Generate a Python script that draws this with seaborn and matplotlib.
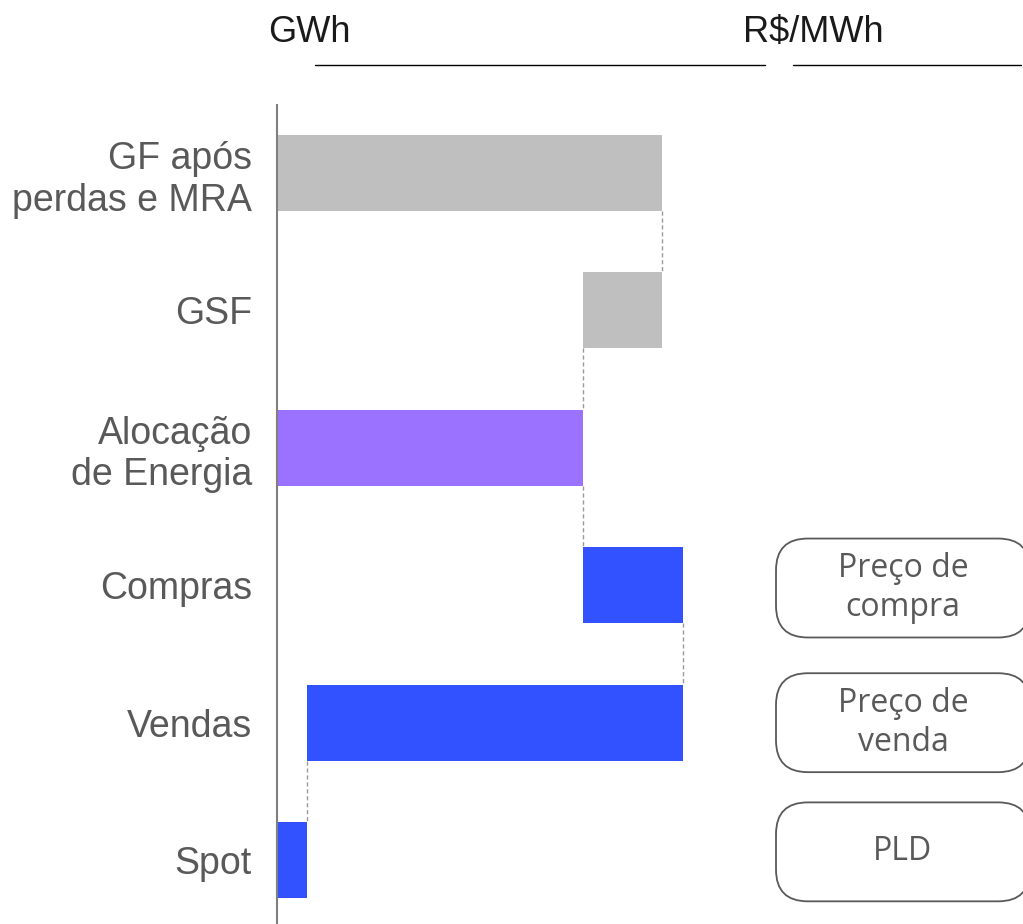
import matplotlib
matplotlib.use("Agg")
import matplotlib.pyplot as plt
from matplotlib.lines import Line2D
from matplotlib.patches import FancyBboxPatch
import pandas as pd
import seaborn as sns

# Waterfall of energy balance (GWh)
categories = ["GF após\nperdas e MRA", "GSF", "Alocação\nde Energia",
              "Compras", "Vendas", "Spot"]
bar_start = [0.0, 79.5, 0.0, 79.5, 7.8, 0.0]
bar_end = [100.0, 100.0, 79.5, 105.5, 105.5, 7.8]
bar_colors = ["#BFBFBF", "#BFBFBF", "#9B72FF", "#3352FF", "#3352FF", "#3352FF"]

# Price boxes on the right, aligned with the last three rows
price_rows = [3, 4, 5]
price_labels = ["Preço de\ncompra", "Preço de\nvenda", "PLD"]
price_offsets = [0.02, 0.0, -0.06]

sns.set_style("white")
plt.rcParams["font.family"] = ["Liberation Sans", "DejaVu Sans"]

W, H = 1023, 924
fig = plt.figure(figsize=(W / 100, H / 100), dpi=100)

# main axes: x from 277px to 765px, y from 105px to the bottom edge
ax = fig.add_axes([277 / W, 0, (765 - 277) / W, (H - 105) / H])

df = pd.DataFrame({
    "category": categories,
    "width": [e - s for s, e in zip(bar_start, bar_end)],
    "start": bar_start,
})
sns.barplot(data=df, x="width", y="category", order=categories,
            orient="h", width=0.553, color=bar_colors[0],
            left=df["start"].to_numpy(), linewidth=0, saturation=1,
            errorbar=None, ax=ax)
for patch, c in zip(ax.patches, bar_colors):
    patch.set_facecolor(c)

# dashed connectors between consecutive bars
half = 0.553 / 2
for i in range(len(categories) - 1):
    level = bar_end[i] if bar_end[i] in (bar_start[i + 1], bar_end[i + 1]) else bar_start[i]
    ax.plot([level, level], [i + half, i + 1 - half], color="#9A9A9A",
            lw=1.0, ls=(0, (3, 2)), zorder=1)

ax.set_xlim(0, (765 - 277) / 3.85)
ax.set_ylim(5.465, -0.495)
ax.set_xlabel("")
ax.set_ylabel("")
ax.set_xticks([])
ax.tick_params(axis="y", length=0, pad=18, labelsize=27, labelcolor="#595959")
for side in ["top", "right", "bottom"]:
    ax.spines[side].set_visible(False)
ax.spines["left"].set_color("#7F7F7F")
ax.spines["left"].set_linewidth(1.5)

# right column with rounded price boxes
ax2 = fig.add_axes([776 / W, 0, (1030 - 776) / W, (H - 105) / H], sharey=ax)
ax2.set_xlim(0, 1)
ax2.axis("off")
box_h = 0.72
aspect = (1 / 137.5) / (1 / 254)
for row, label, off in zip(price_rows, price_labels, price_offsets):
    yc = row + off
    box = FancyBboxPatch((0, yc - box_h / 2), 1, box_h,
                         boxstyle="round,pad=0,rounding_size=0.125",
                         mutation_aspect=aspect, facecolor="white",
                         edgecolor="#595959", linewidth=1.3, clip_on=False)
    ax2.add_patch(box)
    ax2.text(0.5, yc, label, ha="center", va="center", fontsize=23,
             family=["Open Sans", "DejaVu Sans"], color="#595959",
             linespacing=1.25)

# headers with underlines
fig.text(268 / W, 1 - 33 / H, "GWh", fontsize=26, color="#1A1A1A",
         ha="left", va="center")
fig.text(743 / W, 1 - 33 / H, "R$/MWh", fontsize=26, color="#1A1A1A",
         ha="left", va="center")
fig.add_artist(Line2D([315 / W, 765 / W], [1 - 65 / H] * 2, color="black", lw=1.0))
fig.add_artist(Line2D([793 / W, 1021 / W], [1 - 65 / H] * 2, color="black", lw=1.0))

fig.savefig("out.png", dpi=100)
